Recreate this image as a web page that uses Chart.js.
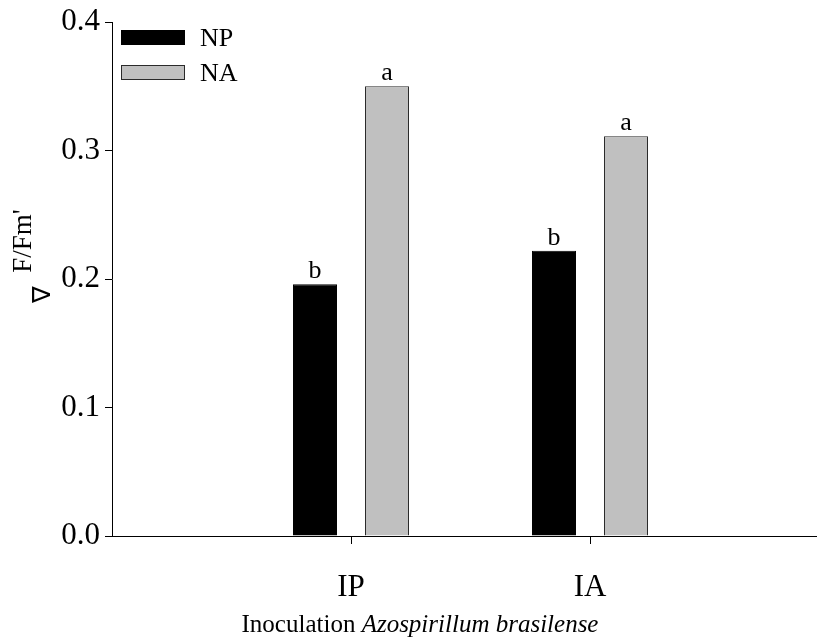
<!DOCTYPE html>
<html>
<head>
<meta charset="utf-8">
<script src="https://cdn.jsdelivr.net/npm/chart.js@4.4.1/dist/chart.umd.min.js"></script>
<style>
  html, body { margin: 0; padding: 0; background: #fff; overflow: hidden; }
  #wrap { width: 830px; height: 638px; }
</style>
</head>
<body>
<div id="wrap"><canvas id="c" width="830" height="638"></canvas></div>
<script>
// Category slots: the blank ends give the axis its empty margins
const categories = ['', 'IP', 'IA', ''];
const seriesNames = ['NP', 'NA'];
const npValues = [null, 0.196, 0.222, null];
const naValues = [null, 0.350, 0.311, null];
const npLetters = [null, 'b', 'b', null];
const naLetters = [null, 'a', 'a', null];
const yTicks = [0.0, 0.1, 0.2, 0.3, 0.4];

const SERIF = '"Liberation Serif", "Times New Roman", serif';
const TICK_SIZE = 31;
const TEXT_SIZE = 26;
const TITLE_SIZE = 25;

const letters = [npLetters, naLetters];

// Significance letters, axis titles and the legend drawn onto the canvas
const annotate = {
  id: 'annotate',
  afterDatasetsDraw(chart) {
    const ctx = chart.ctx;
    ctx.save();
    ctx.fillStyle = '#000';
    ctx.font = TEXT_SIZE + 'px ' + SERIF;
    ctx.textAlign = 'center';
    ctx.textBaseline = 'alphabetic';
    chart.data.datasets.forEach((ds, di) => {
      const meta = chart.getDatasetMeta(di);
      meta.data.forEach((bar, i) => {
        const lab = letters[di][i];
        if (lab == null || ds.data[i] == null) return;
        ctx.fillText(lab, bar.x, bar.y - 6);
      });
    });
    ctx.restore();
  },
  afterDraw(chart) {
    const ctx = chart.ctx;
    ctx.save();
    ctx.fillStyle = '#000';

    // legend
    const ds = chart.data.datasets;
    const legendRows = [38, 73];
    ds.forEach((d, i) => {
      const y = legendRows[i];
      ctx.fillStyle = d.backgroundColor;
      ctx.fillRect(121.5, y - 7.5, 63, 14);
      ctx.strokeStyle = d.borderColor;
      ctx.lineWidth = 1;
      ctx.strokeRect(121.5, y - 7.5, 63, 14);
      ctx.fillStyle = '#000';
      ctx.font = TEXT_SIZE + 'px ' + SERIF;
      ctx.textAlign = 'left';
      ctx.textBaseline = 'middle';
      ctx.fillText(d.label, 200, y + 1);
    });

    // x-axis title
    ctx.textBaseline = 'alphabetic';
    ctx.textAlign = 'left';
    ctx.font = TITLE_SIZE + 'px ' + SERIF;
    const part1 = 'Inoculation ';
    const part2 = 'Azospirillum brasilense';
    const w1 = ctx.measureText(part1).width;
    ctx.font = 'italic ' + TITLE_SIZE + 'px ' + SERIF;
    const w2 = ctx.measureText(part2).width;
    const cx = 420;
    const x0 = cx - (w1 + w2) / 2;
    ctx.font = TITLE_SIZE + 'px ' + SERIF;
    ctx.fillText(part1, x0, 632);
    ctx.font = 'italic ' + TITLE_SIZE + 'px ' + SERIF;
    ctx.fillText(part2, x0 + w1, 632);

    // y-axis title
    ctx.font = '27px ' + SERIF;
    ctx.save();
    ctx.translate(31, 241);
    ctx.rotate(-Math.PI / 2);
    ctx.textAlign = 'center';
    ctx.fillText("F/Fm'", 0, 0);
    ctx.restore();
    ctx.save();
    ctx.translate(50, 294);
    ctx.rotate(-Math.PI / 2);
    ctx.textAlign = 'center';
    ctx.font = '25px ' + SERIF;
    ctx.fillText('\u2207', 0, 0);
    ctx.restore();

    ctx.restore();
  }
};

new Chart(document.getElementById('c'), {
  type: 'bar',
  data: {
    labels: categories,
    datasets: [
      {
        label: seriesNames[0],
        data: npValues,
        backgroundColor: '#000000',
        borderColor: '#000000',
        borderWidth: 1,
        categoryPercentage: 0.6025,
        barPercentage: 0.611
      },
      {
        label: seriesNames[1],
        data: naValues,
        backgroundColor: '#c0c0c0',
        borderColor: '#2a2a2a',
        borderWidth: 1,
        categoryPercentage: 0.6025,
        barPercentage: 0.611
      }
    ]
  },
  options: {
    responsive: false,
    animation: false,
    layout: { padding: { left: 0, right: 1, top: 22, bottom: 0 } },
    plugins: {
      legend: { display: false },
      tooltip: { enabled: false }
    },
    scales: {
      x: {
        type: 'category',
        offset: false,
        border: { display: true, color: '#000', width: 1 },
        grid: {
          display: true,
          offset: false,
          drawOnChartArea: false,
          drawTicks: true,
          tickLength: 8,
          color: (c) => (c.index === 0 || c.index === categories.length - 1) ? 'rgba(0,0,0,0)' : '#000'
        },
        ticks: {
          color: '#000',
          font: { family: SERIF, size: TICK_SIZE },
          padding: 25,
          maxRotation: 0,
          autoSkip: false
        },
        afterFit(scale) {
          scale.height = 102;
          scale.paddingLeft = 0;
          scale.paddingRight = 0;
        }
      },
      y: {
        min: yTicks[0],
        max: yTicks[yTicks.length - 1],
        border: { display: true, color: '#000', width: 1 },
        grid: {
          display: true,
          drawOnChartArea: false,
          drawTicks: true,
          tickLength: 7,
          color: '#000'
        },
        afterBuildTicks(scale) {
          scale.ticks = yTicks.map(v => ({ value: v }));
        },
        ticks: {
          color: '#000',
          font: { family: SERIF, size: TICK_SIZE },
          padding: 5,
          callback: (v) => Number(v).toFixed(1)
        },
        afterFit(scale) {
          scale.width = 112;
          scale.paddingTop = 0;
          scale.paddingBottom = 0;
        }
      }
    }
  },
  plugins: [annotate]
});
</script>
</body>
</html>
